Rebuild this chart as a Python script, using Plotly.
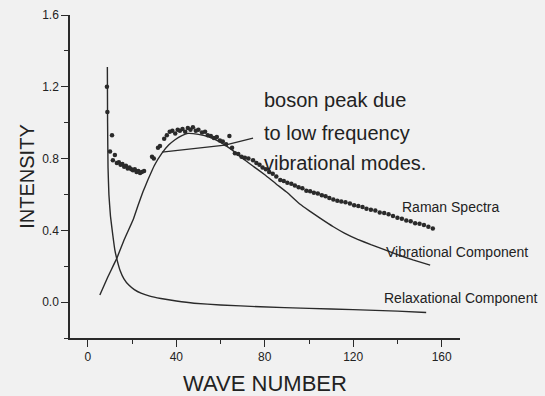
import plotly.graph_objects as go

# Raman spectra (measured points)
raman_x = [8.6, 8.8, 10.0, 10.9, 11.3, 12.2, 13.1, 14.0, 14.8, 15.6, 16.4, 17.2, 18.0, 18.8,
           19.6, 20.4, 21.2, 22.0, 22.8, 23.6, 24.4, 25.4, 29.0, 29.8, 31.7, 32.6, 34.5, 35.7,
           37.0, 38.2, 39.5, 40.6, 41.6, 42.8, 44.0, 45.2, 46.4, 47.5, 48.8, 50.0, 51.6, 53.0,
           54.2, 55.6, 57.0, 58.3, 59.7, 61.0, 62.5, 64.0, 65.2, 66.5, 68.0, 69.5, 71.0, 72.6,
           74.7, 76.2, 77.6, 79.0, 80.5, 82.0, 83.6, 85.2, 87.0, 88.6, 90.2, 92.0, 93.6, 95.3,
           97.0, 98.8, 100.5, 102.2, 104.0, 105.8, 107.5, 109.2, 111.0, 112.8, 114.6, 116.5,
           118.5, 120.4, 122.3, 124.2, 126.0, 128.0, 130.0, 132.0, 134.0, 136.0, 138.0, 140.0,
           142.0, 144.0, 146.0, 148.0, 150.0, 152.0, 154.0, 156.0]
raman_y = [1.20, 1.06, 0.84, 0.93, 0.79, 0.82, 0.775, 0.78, 0.765, 0.77, 0.755, 0.76, 0.745, 0.75,
           0.74, 0.735, 0.74, 0.725, 0.73, 0.72, 0.725, 0.73, 0.81, 0.80, 0.86, 0.87, 0.91, 0.93,
           0.95, 0.955, 0.94, 0.96, 0.955, 0.965, 0.95, 0.97, 0.96, 0.975, 0.955, 0.96, 0.945, 0.95,
           0.93, 0.925, 0.915, 0.92, 0.90, 0.895, 0.88, 0.925, 0.86, 0.83, 0.825, 0.81, 0.805, 0.80,
           0.79, 0.775, 0.765, 0.75, 0.74, 0.725, 0.715, 0.70, 0.68, 0.675, 0.665, 0.66, 0.65, 0.64,
           0.635, 0.62, 0.618, 0.61, 0.605, 0.595, 0.59, 0.58, 0.572, 0.565, 0.56, 0.556,
           0.55, 0.54, 0.536, 0.53, 0.52, 0.515, 0.51, 0.50, 0.497, 0.49, 0.48, 0.47,
           0.465, 0.455, 0.45, 0.44, 0.436, 0.43, 0.42, 0.41]

# Vibrational component
vib_x = [5.4, 9.0, 13.1, 16.5, 20.4, 22.7, 24.9, 27.1, 30.0, 33.5, 36.5, 39.4, 42.5, 45.2, 50.0,
         55.0, 60.0, 65.0, 70.0, 75.0, 80.0, 85.0, 90.0, 96.0, 100.0, 105.0, 111.0, 116.0, 122.0,
         128.0, 133.5, 140.0, 147.0, 154.8]
vib_y = [0.04, 0.14, 0.245, 0.35, 0.457, 0.54, 0.615, 0.68, 0.76, 0.83, 0.875, 0.905, 0.928, 0.94, 0.935,
         0.92, 0.89, 0.85, 0.80, 0.755, 0.71, 0.66, 0.612, 0.545, 0.51, 0.468, 0.42, 0.385, 0.35,
         0.32, 0.295, 0.265, 0.235, 0.206]

# Relaxational component
rel_x = [8.8, 8.9, 9.1, 9.5, 10.2, 11.3, 12.2, 13.3, 14.6, 16.3, 18.5, 21.0, 24.0, 28.0, 33.0,
         40.0, 48.0, 60.0, 78.0, 100.0, 120.0, 140.0, 153.0]
rel_y = [1.31, 1.0, 0.75, 0.6, 0.48, 0.37, 0.29, 0.23, 0.175, 0.13, 0.095, 0.07, 0.05, 0.033, 0.02,
         0.006, -0.006, -0.016, -0.026, -0.035, -0.042, -0.05, -0.058]

# pointer from the "boson peak" note
pointer_x = [33.5, 62.0, 74.7]
pointer_y = [0.836, 0.875, 0.914]

x_ticks = [0, 40, 80, 120, 160]
y_ticks = [0.0, 0.4, 0.8, 1.2, 1.6]

ink = "#2a2a2a"
paper = "#f1f1f1"

fig = go.Figure()
fig.add_trace(go.Scatter(x=rel_x, y=rel_y, mode="lines", line=dict(color=ink, width=1.4, shape="spline", smoothing=0.3),
                         name="Relaxational Component", hoverinfo="skip"))
fig.add_trace(go.Scatter(x=vib_x, y=vib_y, mode="lines", line=dict(color=ink, width=1.4, shape="spline", smoothing=0.3),
                         name="Vibrational Component", hoverinfo="skip"))
fig.add_trace(go.Scatter(x=pointer_x, y=pointer_y, mode="lines", line=dict(color=ink, width=1.2),
                         name="pointer", hoverinfo="skip"))
fig.add_trace(go.Scatter(x=raman_x, y=raman_y, mode="markers", marker=dict(color=ink, size=4.5),
                         name="Raman Spectra"))

font_main = "Liberation Sans, Arial, sans-serif"

notes = [
    ("boson peak due", 78.7, 1.126, 20),
    ("to low frequency", 78.7, 0.942, 20),
    ("vibrational modes.", 78.7, 0.775, 20),
    ("Raman Spectra", 141.0, 0.53, 14),
    ("Vibrational Component", 134.0, 0.279, 14),
    ("Relaxational Component", 133.0, 0.022, 14),
]
for txt, x, y, s in notes:
    fig.add_annotation(x=x, y=y, text=txt, showarrow=False, xanchor="left", yanchor="middle",
                       font=dict(family=font_main, size=s, color="#222"))

fig.update_layout(
    width=545, height=396,
    margin=dict(l=70, r=85, t=15, b=58, autoexpand=False),
    paper_bgcolor=paper, plot_bgcolor=paper,
    showlegend=False,
    font=dict(family=font_main, color="#222"),
)
fig.update_xaxes(range=[-8.1, 168.3], automargin=False, showgrid=False, zeroline=False, showline=True,
                 linecolor=ink, linewidth=1.5,
                 tickmode="array", tickvals=x_ticks, ticktext=[str(v) for v in x_ticks],
                 ticks="outside", ticklen=7, tickwidth=1.3, tickcolor=ink, tickfont=dict(size=12),
                 minor=dict(dtick=20, tick0=0, ticks="outside", ticklen=4, tickcolor=ink, tickwidth=1.1),
                 title=dict(text="WAVE NUMBER", font=dict(size=22), standoff=22))
fig.update_yaxes(range=[-0.2, 1.6], automargin=False, showgrid=False, zeroline=False, showline=True,
                 linecolor=ink, linewidth=1.5,
                 tickmode="array", tickvals=y_ticks, ticktext=[f"{v:.1f}" for v in y_ticks],
                 ticks="outside", ticklen=7, tickwidth=1.3, tickcolor=ink, tickfont=dict(size=12),
                 minor=dict(dtick=0.2, tick0=0, ticks="outside", ticklen=4, tickcolor=ink, tickwidth=1.1),
                 title=dict(text="INTENSITY", font=dict(size=20), standoff=2))

fig.write_html("out.html")
